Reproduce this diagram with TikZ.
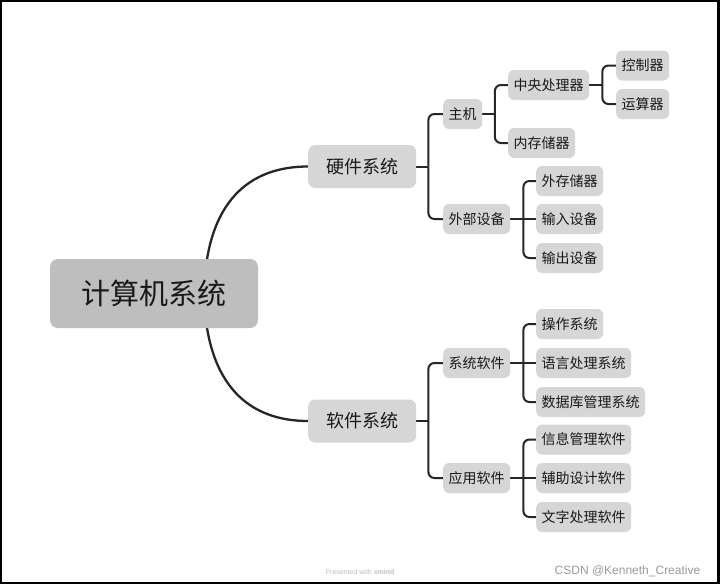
\documentclass[tikz,border=0pt]{standalone}
\usepackage{fontspec}
\setmainfont{Liberation Sans}
\newfontfamily\cjk{Noto Sans CJK SC}
\pgfdeclarelayer{frame}
\pgfdeclarelayer{links}
\pgfsetlayers{frame,links,main}
\definecolor{nodegray}{RGB}{214,214,214}
\definecolor{rootgray}{RGB}{190,190,190}
\definecolor{linec}{RGB}{38,38,38}
\definecolor{txt}{RGB}{25,25,25}
\begin{document}
\begin{tikzpicture}[x=1pt,y=-1pt,
  topic/.style={fill=nodegray, rounded corners=6pt, text=txt,
    font=\cjk\fontsize{14}{14}\selectfont, inner xsep=5.5pt, inner ysep=0pt,
    minimum height=30pt, anchor=west},
  maintopic/.style={topic, font=\cjk\fontsize{18}{18}\selectfont,
    inner xsep=18pt, minimum height=43pt, rounded corners=7pt},
  roottopic/.style={fill=rootgray, rounded corners=8pt, text=txt,
    font=\cjk\fontsize{29}{29}\selectfont, minimum width=208pt,
    minimum height=69pt, inner sep=0pt},
  conn/.style={draw=linec, line width=2pt},
  elbow/.style={conn, rounded corners=6pt},
  rootlink/.style={draw=linec, line width=2.3pt},
]
\useasboundingbox (0,0) rectangle (720,584);
\begin{pgfonlayer}{frame}
\fill[black] (0,0) rectangle (720,584);
\fill[white] (2,2) rectangle (716.5,581.5);
\end{pgfonlayer}

% nodes
\node[roottopic] (root) at (154,293.5) {计算机系统};
\node[maintopic] (hw) at (308,166.5) {硬件系统};
\node[maintopic] (sw) at (308,421) {软件系统};

\node[topic] (zj) at (443,114) {主机};
\node[topic] (wb) at (443,219) {外部设备};
\node[topic] (cpu) at (508,85) {中央处理器};
\node[topic] (nc) at (508,143) {内存储器};
\node[topic] (kz) at (616,65.5) {控制器};
\node[topic] (ys) at (616,104) {运算器};
\node[topic] (wc) at (536,181) {外存储器};
\node[topic] (sr) at (536,219) {输入设备};
\node[topic] (sc) at (536,258) {输出设备};

\node[topic] (xr) at (443,363) {系统软件};
\node[topic] (yy) at (443,478) {应用软件};
\node[topic] (cz) at (536,324) {操作系统};
\node[topic] (yc) at (536,363) {语言处理系统};
\node[topic] (sj) at (536,402) {数据库管理系统};
\node[topic] (xx) at (536,439.5) {信息管理软件};
\node[topic] (fz) at (536,478) {辅助设计软件};
\node[topic] (wz) at (536,517) {文字处理软件};

% junctions
\coordinate (rs) at ([xshift=50pt]root.center);
\coordinate (jh) at ([xshift=12pt]hw.east);
\coordinate (js) at ([xshift=12pt]sw.east);
\coordinate (jz) at ([xshift=12.5pt]zj.east);
\coordinate (jc) at ([xshift=13pt]cpu.east);
\coordinate (jw) at ([xshift=13pt]wb.east);
\coordinate (jx) at ([xshift=13pt]xr.east);
\coordinate (jy) at ([xshift=13pt]yy.east);

\begin{pgfonlayer}{links}
\draw[rootlink] (rs) .. controls +(2,-93) and +(-58,0) .. (hw.west);
\draw[rootlink] (rs) .. controls +(2,93) and +(-58,0) .. (sw.west);

\draw[conn] (hw.east) -- (jh);
\draw[elbow] (zj.west) -| (jh);
\draw[elbow] (wb.west) -| (jh);

\draw[conn] (zj.east) -- (jz);
\draw[elbow] (cpu.west) -| (jz);
\draw[elbow] (nc.west) -| (jz);

\draw[conn] (cpu.east) -- (jc);
\draw[elbow] (kz.west) -| (jc);
\draw[elbow] (ys.west) -| (jc);

\draw[conn] (wb.east) -- (jw);
\draw[elbow] (wc.west) -| (jw);
\draw[conn] (sr.west) -- (jw);
\draw[elbow] (sc.west) -| (jw);

\draw[conn] (sw.east) -- (js);
\draw[elbow] (xr.west) -| (js);
\draw[elbow] (yy.west) -| (js);

\draw[conn] (xr.east) -- (jx);
\draw[elbow] (cz.west) -| (jx);
\draw[conn] (yc.west) -- (jx);
\draw[elbow] (sj.west) -| (jx);

\draw[conn] (yy.east) -- (jy);
\draw[elbow] (xx.west) -| (jy);
\draw[conn] (fz.west) -- (jy);
\draw[elbow] (wz.west) -| (jy);
\end{pgfonlayer}

% footer texts
\node[text=black!25, font=\fontsize{7}{7}\selectfont, inner sep=0pt] (pw) at (360,572) {Presented with \textbf{xmind}};
\node[text=black!40, font=\fontsize{12}{12}\selectfont, inner sep=0pt] (csdn) at (627.5,571) {CSDN @Kenneth\_Creative};
\end{tikzpicture}
\end{document}
